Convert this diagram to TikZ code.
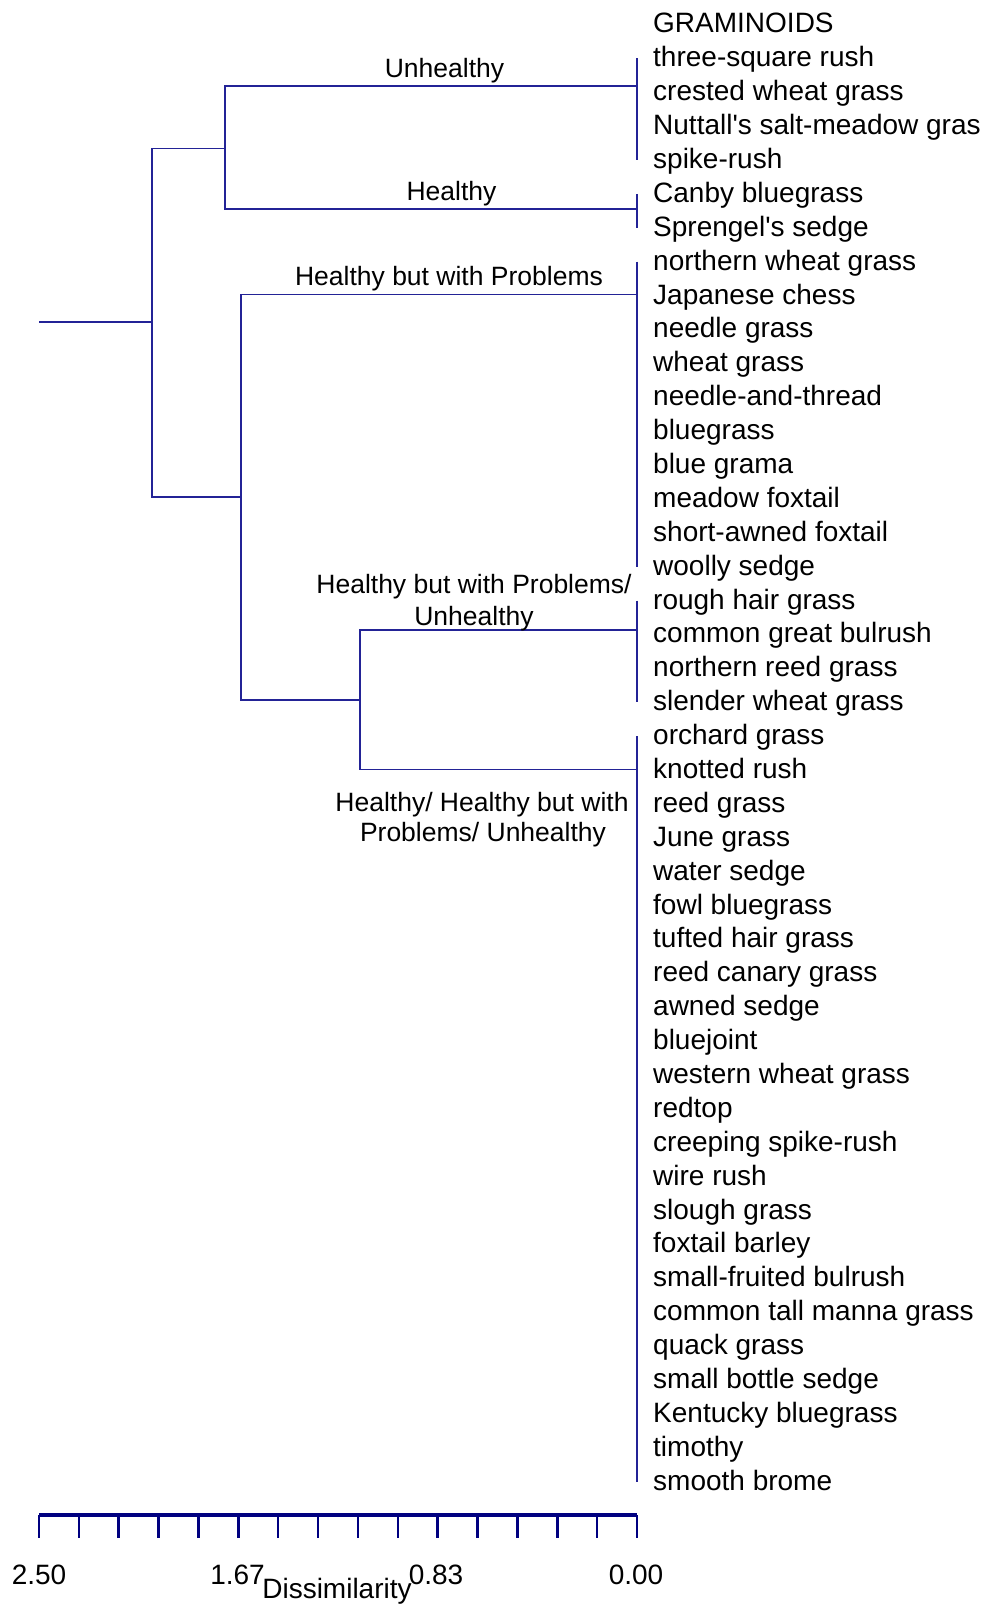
\documentclass[tikz,border=0pt]{standalone}
\usepackage{fontspec}
\setmainfont{Liberation Sans}
\definecolor{branch}{RGB}{35,35,150}
\definecolor{axisblue}{RGB}{0,0,128}
\begin{document}
\begin{tikzpicture}[x=1pt,y=-1pt,
  branch/.style={draw=branch,line width=1.3pt},
  leaf/.style={anchor=base west,inner sep=0pt,font=\fontsize{28}{34}\selectfont},
  grouplabel/.style={anchor=base,inner sep=0pt,font=\fontsize{26.5}{31}\selectfont},
  ticklabel/.style={anchor=base,inner sep=0pt,font=\fontsize{28}{34}\selectfont},
  axisbar/.style={draw=axisblue,line width=4pt},
  axistick/.style={draw=axisblue,line width=2.5pt}]
\useasboundingbox (0,0) rectangle (984,1606);

% header and leaf labels
\node[leaf] (head) at (653,32) {GRAMINOIDS};
\foreach \txt [count=\i] in {three-square rush, crested wheat grass,
  Nuttall\textquotesingle s salt-meadow gras, spike-rush, Canby bluegrass,
  Sprengel\textquotesingle s sedge, northern wheat grass, Japanese chess,
  needle grass, wheat grass, needle-and-thread, bluegrass, blue grama,
  meadow foxtail, short-awned foxtail, woolly sedge, rough hair grass,
  common great bulrush, northern reed grass, slender wheat grass,
  orchard grass, knotted rush, reed grass, June grass, water sedge,
  fowl bluegrass, tufted hair grass, reed canary grass, awned sedge,
  bluejoint, western wheat grass, redtop, creeping spike-rush, wire rush,
  slough grass, foxtail barley, small-fruited bulrush,
  common tall manna grass, quack grass, small bottle sedge,
  Kentucky bluegrass, timothy, smooth brome}{
  \pgfmathsetmacro{\yy}{58.3+(\i-1)*33.89}
  \coordinate (p\i) at (637,\yy);
  \node[leaf] (l\i) at (653,\yy+8.5) {\txt};
}

% cluster joins at the leaf column
\draw[branch] (p1) -- (p4);
\draw[branch] (p5) -- (p6);
\draw[branch] (p7) -- (p16);
\draw[branch] (p17) -- (p20);
\draw[branch] (p21) -- (p43);

% branch ends at the leaf column
\coordinate (c1) at (637,86);
\coordinate (c2) at (637,209);
\coordinate (c3) at (637,294.3);
\coordinate (c4) at (637,630);
\coordinate (c5) at (637,769.5);

% internal junctions
\coordinate (root) at (39,322);
\coordinate (n0) at (152,322);
\coordinate (n1) at (225,148.5);
\coordinate (n2) at (241,497);
\coordinate (n3) at (360,700);

\draw[branch] (root) -- (n0);
\draw[branch] (n1) -| (n0) |- (n2);
\draw[branch] (c1) -| (n1) |- (c2);
\draw[branch] (c3) -| (n2) |- (n3);
\draw[branch] (c4) -| (n3) |- (c5);

% cluster labels
\node[grouplabel] (labU) at (444.5,77) {Unhealthy};
\node[grouplabel] (labH) at (451.5,200.5) {Healthy};
\node[grouplabel] (labP) at (449,285.5) {Healthy but with Problems};
\node[grouplabel] (labPUa) at (474,593.3) {Healthy but with Problems/};
\node[grouplabel] (labPUb) at (474,625) {Unhealthy};
\node[grouplabel] (labAa) at (482,811.7) {Healthy/ Healthy but with};
\node[grouplabel] (labAb) at (483,841.7) {Problems/ Unhealthy};

% dissimilarity axis
\coordinate (ax0) at (39,1515);
\coordinate (ax1) at (637,1515);
\foreach \k in {0,...,15}{
  \draw[axistick] (39+\k*39.867,1515) -- ++(0,23);
}
\draw[axisbar] (ax0) -- (ax1);
\node[ticklabel] (t0) at (39,1584) {2.50};
\node[ticklabel] (t1) at (237.5,1584) {1.67};
\node[ticklabel] (t2) at (436,1584) {0.83};
\node[ticklabel] (t3) at (636,1584) {0.00};
\node[ticklabel] (axlab) at (337,1598.5) {Dissimilarity};
\end{tikzpicture}
\end{document}
